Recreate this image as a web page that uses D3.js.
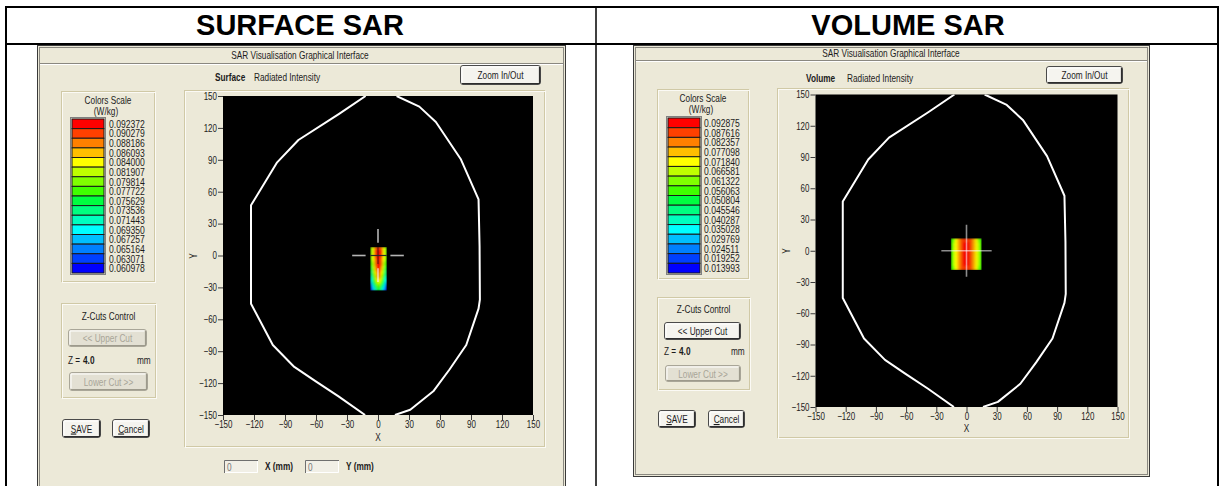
<!DOCTYPE html>
<html><head><meta charset="utf-8">
<script src="https://cdn.jsdelivr.net/npm/d3@7"></script>
<style>
html,body{margin:0;padding:0;background:#fff;}
svg{display:block;}
.ui{font-family:'Liberation Sans',Arial,sans-serif;font-size:11px;fill:#1c1c1c;}
</style></head><body>
<svg id="chart" width="1224" height="486"></svg>
<script>
// ---------------- DATA ----------------
const panelTitles = ["SURFACE SAR", "VOLUME SAR"];
const modeNames = ["Surface", "Volume"];
const windowTitle = "SAR Visualisation Graphical Interface";
const legendColors = ["#ff0000","#ff4000","#ff8000","#ffbf00","#ffff00","#bfff00","#80ff00","#40ff00",
                      "#00ff40","#00ff80","#00ffbf","#00ffff","#00bfff","#0080ff","#0040ff","#0000ff"];
const surfaceLegend = ["0.092372","0.090279","0.088186","0.086093","0.084000","0.081907","0.079814","0.077722",
                       "0.075629","0.073536","0.071443","0.069350","0.067257","0.065164","0.063071","0.060978"];
const volumeLegend = ["0.092875","0.087616","0.082357","0.077098","0.071840","0.066581","0.061322","0.056063",
                      "0.050804","0.045546","0.040287","0.035028","0.029769","0.024511","0.019252","0.013993"];
const axisTicks = [-150,-120,-90,-60,-30,0,30,60,90,120,150];
// phantom contour (mm)
const outlineLeft = [[-12,150],[-38,133],[-77,108.6],[-97.6,87.6],[-122.9,47.2],[-122.9,-45.4],[-101.8,-84.2],
                     [-81,-104.8],[-61.3,-117.7],[-38.2,-132.5],[-12.5,-150]];
const outlineRight = [[18,150],[40,140],[56,125.6],[80,90.8],[97.3,52.8],[98.3,8.5],[98.6,-41.4],[97.3,-50],
                      [85.4,-84.2],[69.2,-107.2],[53.5,-127.7],[31.2,-145.1],[16.4,-150]];
// SAR maps: colour level per cell (0 = lowest / blue ... 15 = highest / red)
const surfaceExtentX = [-7.5, 8.5];
const surfaceExtentY = [-33, 8];
const surfaceLevels = [
  [9,11,13,14,14,13,11,9],
  [9,11,14,15,15,14,11,9],
  [9,11,14,15,15,14,11,9],
  [9,11,14,15,15,14,11,9],
  [9,11,14,15,15,14,11,9],
  [9,11,13,15,15,13,11,9],
  [8,11,13,15,15,13,11,8],
  [8,10,13,15,15,13,10,8],
  [8,10,13,15,15,13,10,8],
  [7,10,12,15,15,12,10,7],
  [7,9,12,14,14,12,9,7],
  [6,9,11,14,14,11,9,6],
  [6,8,11,13,13,11,8,6],
  [5,8,10,13,13,10,8,5],
  [4,7,10,12,12,10,7,4],
  [4,7,9,11,11,9,7,4],
  [3,6,8,10,10,8,6,3],
  [2,5,7,9,9,7,5,2],
  [1,4,6,8,8,6,4,1],
  [0,3,5,7,7,5,3,0]
];
const volumeExtentX = [-15.5, 15];
const volumeExtentY = [-18.5, 12];
const volumeLevels = [
  [8,9,11,12,13,14,14,15,14,14,13,12,11,9,8],
  [8,10,11,12,13,14,15,15,15,14,13,12,11,10,8],
  [8,10,11,12,13,14,15,15,15,14,13,12,11,10,8],
  [8,10,11,12,13,14,15,15,15,14,13,12,11,10,8],
  [8,10,11,12,13,14,15,15,15,14,13,12,11,10,8],
  [8,10,11,12,13,14,15,15,15,14,13,12,11,10,8],
  [8,10,11,12,13,14,15,15,15,14,13,12,11,10,8],
  [8,9,11,12,13,14,14,15,14,14,13,12,11,9,8]
];
const zValue = "4.0";
const crossArm = 25;

// ---------------- LAYOUT ----------------
const panels = [
  { title: panelTitles[0], mode: modeNames[0], legend: surfaceLegend, levels: surfaceLevels,
    ex: surfaceExtentX, ey: surfaceExtentY, kind: "surface",
    cellCx: 300,
    dlg: {x:37, y:45, w:529, h:470}, titleY:59, titleLineY:63, titleCx:300,
    modeX:215, modeX2:254, modeY:81,
    zoom: {x:460, y:65, w:81, h:20},
    lgBox: {x:61, y:91, w:94, h:191}, lgTitleY:104, lgUnitY:115, sw: {x:72, w:32, y0:119, y1:273}, lgLabelX:109,
    zBox: {x:61, y:303, w:95, h:95}, zTitleY:320, upper: {x:68, y:329, w:79, h:18, on:false},
    zY:364, zX:68, zValX:83, mmX:137, lower: {x:69, y:372, w:79, h:19, on:false},
    save: {x:62, y:419, w:39, h:19}, cancel: {x:112, y:419, w:38, h:19},
    frame: {x:184, y:90, w:361, h:357},
    plot: {x0:223, x1:533, y0:96, y1:415}, yLab: {x:193, y:256}, xLabY:441,
    inputs: true },
  { title: panelTitles[1], mode: modeNames[1], legend: volumeLegend, levels: volumeLevels,
    ex: volumeExtentX, ey: volumeExtentY, kind: "volume",
    cellCx: 908,
    dlg: {x:633, y:45, w:517, h:432}, titleY:57, titleLineY:60, titleCx:891,
    modeX:806, modeX2:847, modeY:82,
    zoom: {x:1046, y:66, w:77, h:18},
    lgBox: {x:657, y:89, w:92, h:190}, lgTitleY:102, lgUnitY:113, sw: {x:668, w:32, y0:118, y1:273}, lgLabelX:704,
    zBox: {x:657, y:297, w:93, h:93}, zTitleY:313, upper: {x:664, y:322, w:77, h:18, on:true},
    zY:355, zX:664, zValX:679, mmX:731, lower: {x:665, y:365, w:76, h:17, on:false},
    save: {x:658, y:410, w:38, h:18}, cancel: {x:708, y:410, w:37, h:18},
    frame: {x:777, y:88, w:352, h:350},
    plot: {x0:815.5, x1:1117.5, y0:94.5, y1:407}, yLab: {x:786, y:251}, xLabY:432,
    inputs: false }
];

const svg = d3.select("#chart");
const FACE = "#ece9d8";

// table
const tbl = svg.append("g");
tbl.append("rect").attr("x",6).attr("y",7).attr("width",1212).attr("height",520)
  .attr("fill","none").attr("stroke","#000").attr("stroke-width",2);
tbl.append("line").attr("x1",6).attr("x2",1218).attr("y1",44).attr("y2",44).attr("stroke","#000").attr("stroke-width",2);
tbl.append("line").attr("x1",596).attr("x2",596).attr("y1",7).attr("y2",500).attr("stroke","#000").attr("stroke-width",1.5);

function etched(g, b) {
  g.append("rect").attr("x",b.x+0.5).attr("y",b.y+0.5).attr("width",b.w-1).attr("height",b.h-1)
    .attr("fill","none").attr("stroke","#d0c9a6");
  g.append("rect").attr("x",b.x+1.5).attr("y",b.y+1.5).attr("width",b.w-1).attr("height",b.h-1)
    .attr("fill","none").attr("stroke","#fbfaf5");
}
function button(g, b, label, on, ul) {
  const bg = g.append("g");
  bg.append("rect").attr("x",b.x+0.5).attr("y",b.y+0.5).attr("width",b.w-1).attr("height",b.h-1).attr("rx",2.5)
    .attr("fill", on ? "#f5f4ef" : "#e3e0d3").attr("stroke", on ? "#4a4a4a" : "#a9a698");
  bg.append("path").attr("d",`M${b.x+2},${b.y+b.h-2.5}L${b.x+2},${b.y+2}L${b.x+b.w-2.5},${b.y+2}`)
    .attr("fill","none").attr("stroke","#fff");
  bg.append("path").attr("d",`M${b.x+b.w-1.5},${b.y+2}L${b.x+b.w-1.5},${b.y+b.h-1.5}L${b.x+2},${b.y+b.h-1.5}`)
    .attr("fill","none").attr("stroke", on ? "#2e2e2e" : "#9d9a8c").attr("stroke-width",1.2);
  const t = bg.append("text").attr("class","ui").attr("x",b.x+b.w/2).attr("y",b.y+b.h/2+4)
    .attr("text-anchor","middle").style("fill", on ? "#1c1c1c" : "#a8a598");
  if (ul) {
    t.append("tspan").style("text-decoration","underline").text(label[0]);
    t.append("tspan").text(label.slice(1));
  } else t.text(label);
}
function sunken(g, x, y, w, h, val) {
  g.append("rect").attr("x",x).attr("y",y).attr("width",w).attr("height",h).attr("fill","#f1efe6");
  g.append("path").attr("d",`M${x+0.5},${y+h}L${x+0.5},${y+0.5}L${x+w},${y+0.5}`).attr("fill","none").attr("stroke","#6f6f6f");
  g.append("path").attr("d",`M${x+w-0.5},${y+1}L${x+w-0.5},${y+h-0.5}L${x+1},${y+h-0.5}`).attr("fill","none").attr("stroke","#fff");
  g.append("text").attr("class","ui").attr("x",x+3).attr("y",y+h-2).style("fill","#777").text(val);
}

panels.forEach((P, pi) => {
  // big title
  svg.append("text").attr("x",P.cellCx).attr("y",35).attr("text-anchor","middle")
    .style("font-family","'Liberation Sans',Arial,sans-serif").style("font-weight","bold").style("font-size","29px")
    .text(P.title);

  const g = svg.append("g");
  const d = P.dlg;
  g.append("rect").attr("x",d.x).attr("y",d.y).attr("width",d.w).attr("height",d.h).attr("fill",FACE);
  g.append("rect").attr("x",d.x+0.5).attr("y",d.y+0.5).attr("width",d.w-1).attr("height",d.h-1)
    .attr("fill","none").attr("stroke","#3a3a3a");
  g.append("rect").attr("x",d.x+2.5).attr("y",d.y+2.5).attr("width",d.w-5).attr("height",d.h-5)
    .attr("fill","none").attr("stroke","#8a8880");
  g.append("line").attr("x1",d.x+3).attr("x2",d.x+d.w-3).attr("y1",P.titleLineY+0.5).attr("y2",P.titleLineY+0.5).attr("stroke","#8a8880");
  g.append("line").attr("x1",d.x+3).attr("x2",d.x+d.w-3).attr("y1",P.titleLineY+1.5).attr("y2",P.titleLineY+1.5).attr("stroke","#fff");
  g.append("text").attr("class","ui").attr("x",P.titleCx).attr("y",P.titleY).attr("text-anchor","middle").text(windowTitle);

  g.append("text").attr("class","ui").attr("x",P.modeX).attr("y",P.modeY).style("font-weight","bold").text(P.mode);
  g.append("text").attr("class","ui").attr("x",P.modeX2).attr("y",P.modeY).text("Radiated Intensity");
  button(g, P.zoom, "Zoom In/Out", true, false);

  // legend
  etched(g, P.lgBox);
  const lcx = P.lgBox.x + P.lgBox.w/2;
  g.append("text").attr("class","ui").attr("x",lcx).attr("y",P.lgTitleY).attr("text-anchor","middle").text("Colors Scale");
  g.append("text").attr("class","ui").attr("x",lcx-2).attr("y",P.lgUnitY).attr("text-anchor","middle").text("(W/kg)");
  const band = d3.scaleBand().domain(d3.range(P.legend.length)).range([P.sw.y0, P.sw.y1]);
  g.append("rect").attr("x",P.sw.x-1.5).attr("y",P.sw.y0-1.5).attr("width",P.sw.w+3).attr("height",P.sw.y1-P.sw.y0+3)
    .attr("fill","none").attr("stroke","#808080");
  P.legend.forEach((lab, i) => {
    g.append("rect").attr("x",P.sw.x).attr("y",band(i)).attr("width",P.sw.w).attr("height",band.bandwidth())
      .attr("fill",legendColors[i]).attr("stroke","#1a1a1a").attr("stroke-width",1);
    g.append("text").attr("class","ui lg").attr("x",P.lgLabelX).attr("y",band(i)+band.bandwidth()/2+4).text(lab);
  });

  // Z cuts
  etched(g, P.zBox);
  g.append("text").attr("class","ui").attr("x",P.zBox.x+P.zBox.w/2).attr("y",P.zTitleY).attr("text-anchor","middle").text("Z-Cuts Control");
  button(g, P.upper, "<< Upper Cut", P.upper.on, false);
  g.append("text").attr("class","ui").attr("x",P.zX).attr("y",P.zY).text("Z =");
  g.append("text").attr("class","ui").attr("x",P.zValX).attr("y",P.zY).style("font-weight","bold").text(zValue);
  g.append("text").attr("class","ui").attr("x",P.mmX).attr("y",P.zY).text("mm");
  button(g, P.lower, "Lower Cut >>", P.lower.on, false);
  button(g, P.save, "SAVE", true, true);
  button(g, P.cancel, "Cancel", true, true);

  // plot frame
  etched(g, P.frame);
  const p = P.plot;
  const x = d3.scaleLinear().domain([-150,150]).range([p.x0,p.x1]);
  const y = d3.scaleLinear().domain([-150,150]).range([p.y1,p.y0]);
  g.append("rect").attr("x",p.x0).attr("y",p.y0).attr("width",p.x1-p.x0).attr("height",p.y1-p.y0).attr("fill","#000");

  const axStyle = sel => {
    sel.select(".domain").remove();
    sel.selectAll("line").attr("stroke","#3a3a3a");
    sel.selectAll("text").attr("class","ui tick").style("font-size","10.5px").style("fill","#1c1c1c");
  };
  g.append("g").attr("transform",`translate(${p.x0},0)`)
    .call(d3.axisLeft(y).tickValues(axisTicks).tickSize(5).tickPadding(1).tickFormat(d3.format("d"))).call(axStyle);
  g.append("g").attr("transform",`translate(0,${p.y1})`)
    .call(d3.axisBottom(x).tickValues(axisTicks).tickSize(5).tickPadding(1).tickFormat(d3.format("d"))).call(axStyle);
  g.append("text").attr("class","ui").attr("x",x(0)).attr("y",P.xLabY).attr("text-anchor","middle").text("X");
  g.append("text").attr("class","ui").attr("transform",`translate(${P.yLab.x + 3.5},${P.yLab.y}) rotate(-90)`)
    .attr("text-anchor","middle").text("Y");

  // clip
  const cid = "clipPlot" + pi;
  svg.append("clipPath").attr("id",cid).append("rect")
    .attr("x",p.x0).attr("y",p.y0).attr("width",p.x1-p.x0).attr("height",p.y1-p.y0);
  const pg = g.append("g").attr("clip-path",`url(#${cid})`);

  // contour
  const line = d3.line().x(v => x(v[0])).y(v => y(v[1]));
  [outlineLeft, outlineRight].forEach(o => {
    pg.append("path").attr("d", line(o)).attr("fill","none").attr("stroke","#fff").attr("stroke-width",2)
      .attr("stroke-linejoin","round");
  });

  // SAR map
  const fid = "blur" + pi;
  const f = svg.append("filter").attr("id",fid).attr("x","-20%").attr("y","-20%").attr("width","140%").attr("height","140%");
  f.append("feGaussianBlur").attr("stdDeviation", P.kind === "surface" ? 0.8 : 1.1).attr("edgeMode","duplicate");
  const hid = "clipHeat" + pi;
  svg.append("clipPath").attr("id",hid).append("rect")
    .attr("x",x(P.ex[0])).attr("y",y(P.ey[1])).attr("width",x(P.ex[1])-x(P.ex[0])).attr("height",y(P.ey[0])-y(P.ey[1]));
  const nr = P.levels.length, nc = P.levels[0].length;
  const cx = d3.scaleLinear().domain([0,nc]).range(P.ex);
  const cy = d3.scaleLinear().domain([0,nr]).range([P.ey[1], P.ey[0]]);
  const hg = pg.append("g").attr("clip-path",`url(#${hid})`).append("g").attr("filter",`url(#${fid})`);
  P.levels.forEach((row, r) => row.forEach((lv, c) => {
    hg.append("rect").attr("x",x(cx(c))).attr("y",y(cy(r)))
      .attr("width",x(cx(c+1))-x(cx(c))+0.4).attr("height",y(cy(r+1))-y(cy(r))+0.4)
      .attr("fill",legendColors[15-lv]);
  }));

  // crosshair
  if (P.kind === "surface") {
    const lg = "#b4b4b4";
    pg.append("line").attr("x1",x(-crossArm)).attr("x2",x(-12)).attr("y1",y(0)).attr("y2",y(0)).attr("stroke",lg).attr("stroke-width",1.6);
    pg.append("line").attr("x1",x(12)).attr("x2",x(crossArm)).attr("y1",y(0)).attr("y2",y(0)).attr("stroke",lg).attr("stroke-width",1.6);
    pg.append("line").attr("x1",x(0)).attr("x2",x(0)).attr("y1",y(crossArm)).attr("y2",y(12)).attr("stroke",lg).attr("stroke-width",1.6);
    pg.append("line").attr("x1",x(0)).attr("x2",x(0)).attr("y1",y(-12)).attr("y2",y(-crossArm)).attr("stroke","#f4f4f4").attr("stroke-width",1.3).attr("opacity",0.85);
    pg.append("line").attr("x1",x(P.ex[0])).attr("x2",x(P.ex[1])).attr("y1",y(0)).attr("y2",y(0)).attr("stroke","#2a2a2a").attr("stroke-width",1.2);
    pg.append("line").attr("x1",x(0)).attr("x2",x(0)).attr("y1",y(P.ey[1])).attr("y2",y(-8)).attr("stroke","#3a1a1a").attr("stroke-width",1.1).attr("opacity",0.8);
  } else {
    pg.append("line").attr("x1",x(-crossArm)).attr("x2",x(crossArm)).attr("y1",y(0)).attr("y2",y(0))
      .attr("stroke","#fff").attr("stroke-opacity",0.55).attr("stroke-width",1.6);
    pg.append("line").attr("x1",x(0)).attr("x2",x(0)).attr("y1",y(crossArm)).attr("y2",y(-crossArm))
      .attr("stroke","#fff").attr("stroke-opacity",0.55).attr("stroke-width",1.6);
  }

  if (P.inputs) {
    sunken(g, 224, 460, 34, 13, "0");
    g.append("text").attr("class","ui").attr("x",265).attr("y",470).style("font-weight","bold").text("X (mm)");
    sunken(g, 305, 460, 34, 13, "0");
    g.append("text").attr("class","ui").attr("x",346).attr("y",470).style("font-weight","bold").text("Y (mm)");
  }
});

// condense UI text to mimic the narrow dialog font
svg.selectAll("text.ui").each(function() {
  const f = this.classList.contains("tick") ? 0.76 : (this.classList.contains("lg") ? 0.78 : 0.75);
  const L = this.getComputedTextLength();
  if (L > 0) {
    this.setAttribute("textLength", (L * f).toFixed(2));
    this.setAttribute("lengthAdjust", "spacingAndGlyphs");
  }
});
</script>
</body></html>
